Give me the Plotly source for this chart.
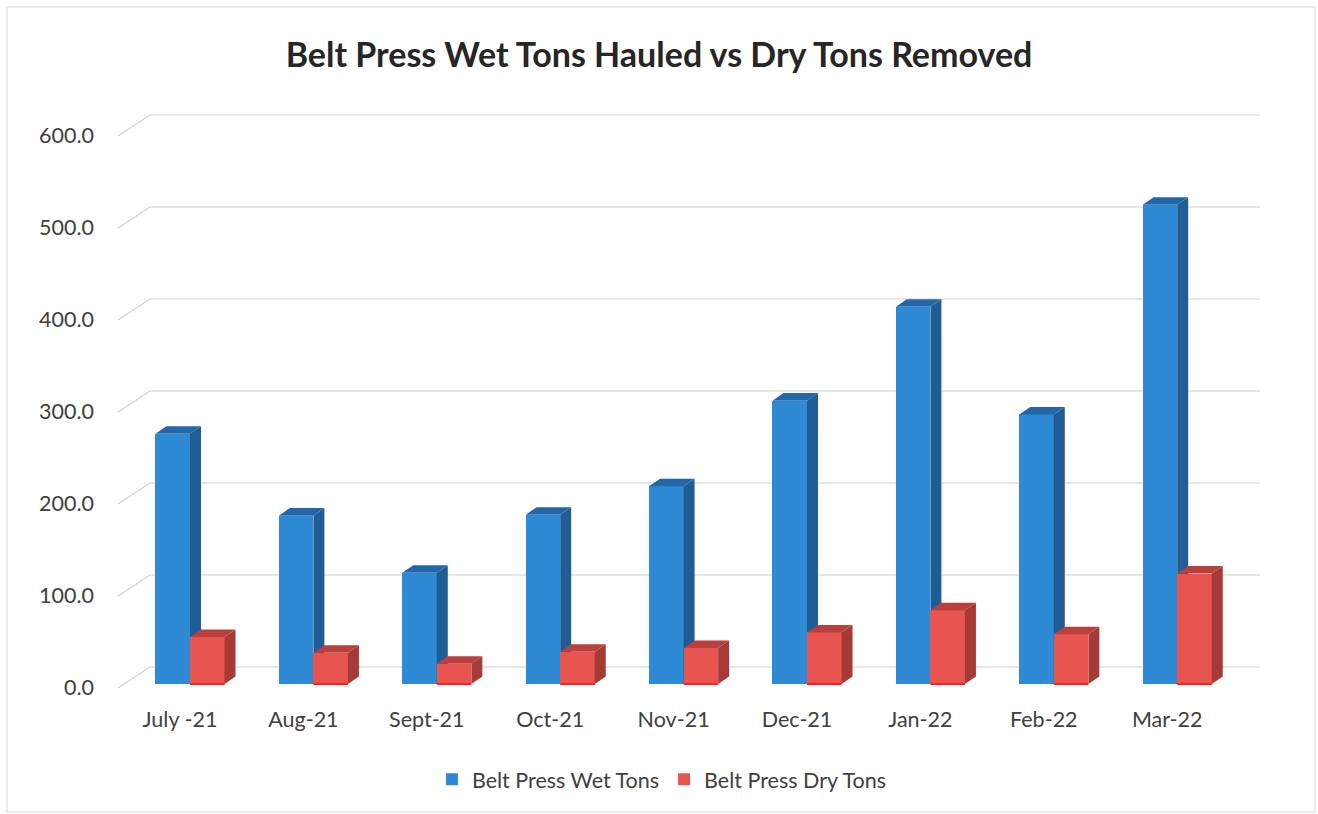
import plotly.graph_objects as go

# ---- data ----
months = ["July -21", "Aug-21", "Sept-21", "Oct-21", "Nov-21",
          "Dec-21", "Jan-22", "Feb-22", "Mar-22"]
wet_tons = [272, 183, 121, 184, 215, 308, 410, 293, 521]
dry_tons = [51, 34, 22, 35, 39, 56, 80, 54, 120]
y_ticks = [0, 100, 200, 300, 400, 500, 600]
y_tick_text = ["0.0", "100.0", "200.0", "300.0", "400.0", "500.0", "600.0"]

# ---- pseudo-3D geometry (axis units) ----
BAR_W = 0.28          # width of a column front
WET_OFF = -0.199      # offset of the wet column from its category tick
DRY_OFF = 0.081       # offset of the dry column
DEPTH_X = 0.089       # depth shift of column tops / sides
DEPTH_Y = 8.2
FLOOR_FRONT = -4.3    # front edge of the floor relative to the column base
WALL = 18.5           # back wall relative to the column base
FRONT_LEFT, WALL_LEFT, WALL_RIGHT = -0.502, -0.243, 8.752

X_RANGE = [-0.6078, 8.995]
Y_RANGE = [-17.39, 634.78]

WET_FRONT, WET_TOP, WET_SIDE = "#2E8AD5", "#2366AA", "#1F5D94"
DRY_FRONT, DRY_TOP, DRY_SIDE = "#E8544F", "#B9403C", "#A63A36"

FONT = "Lato, 'Open Sans', sans-serif"
TICK_SIZE = 21.5
idx = list(range(len(months)))


def faces(values, offset):
    """Polygons (None separated) for the top and right-hand faces of columns."""
    tx, ty, sx, sy = [], [], [], []
    for i, h in zip(idx, values):
        left = i + offset
        right = left + BAR_W
        tx += [left, right, right + DEPTH_X, left + DEPTH_X, left, None]
        ty += [h, h, h + DEPTH_Y, h + DEPTH_Y, h, None]
        sx += [right, right + DEPTH_X, right + DEPTH_X, right, right, None]
        sy += [0, DEPTH_Y, h + DEPTH_Y, h, 0, None]
    return tx, ty, sx, sy


fig = go.Figure()

# invisible anchor trace for the base axes (tick labels live here)
fig.add_trace(go.Scatter(x=[X_RANGE[0]], y=[0], mode="markers",
                         marker=dict(opacity=0), showlegend=False,
                         hoverinfo="skip", xaxis="x", yaxis="y"))

# wet tons columns on their own overlay
tx, ty, sx, sy = faces(wet_tons, WET_OFF)
fig.add_trace(go.Bar(x=idx, y=wet_tons, width=BAR_W, offset=WET_OFF, base=0,
                     name="Belt Press Wet Tons",
                     marker=dict(color=WET_FRONT, line=dict(width=0)),
                     xaxis="x2", yaxis="y2"))
fig.add_trace(go.Scatter(x=sx, y=sy, fill="toself", mode="lines",
                         line=dict(width=0, color=WET_SIDE), fillcolor=WET_SIDE,
                         showlegend=False, hoverinfo="skip", xaxis="x2", yaxis="y2"))
fig.add_trace(go.Scatter(x=tx, y=ty, fill="toself", mode="lines",
                         line=dict(width=0, color=WET_TOP), fillcolor=WET_TOP,
                         showlegend=False, hoverinfo="skip", xaxis="x2", yaxis="y2"))

# dry tons columns drawn above the wet ones
tx, ty, sx, sy = faces(dry_tons, DRY_OFF)
fig.add_trace(go.Bar(x=idx, y=dry_tons, width=BAR_W, offset=DRY_OFF, base=0,
                     name="Belt Press Dry Tons",
                     marker=dict(color=DRY_FRONT, line=dict(width=0)),
                     xaxis="x3", yaxis="y3"))
fig.add_trace(go.Scatter(x=sx, y=sy, fill="toself", mode="lines",
                         line=dict(width=0, color=DRY_SIDE), fillcolor=DRY_SIDE,
                         showlegend=False, hoverinfo="skip", xaxis="x3", yaxis="y3"))
fig.add_trace(go.Scatter(x=tx, y=ty, fill="toself", mode="lines",
                         line=dict(width=0, color=DRY_TOP), fillcolor=DRY_TOP,
                         showlegend=False, hoverinfo="skip", xaxis="x3", yaxis="y3"))
# bright lower edge of the dry columns
ex, ey = [], []
for i in idx:
    ex += [i + DRY_OFF, i + DRY_OFF + BAR_W, None]
    ey += [0, 0, None]
fig.add_trace(go.Scatter(x=ex, y=ey, mode="lines", line=dict(color="#FF1F1F", width=2),
                         showlegend=False, hoverinfo="skip", xaxis="x3", yaxis="y3"))

# back-wall gridlines with the slanted side-wall segment
shapes = []
for t in y_ticks:
    shapes.append(dict(
        type="path", xref="x", yref="y", layer="below",
        path=f"M {FRONT_LEFT},{t + FLOOR_FRONT} L {WALL_LEFT},{t + WALL} L {WALL_RIGHT},{t + WALL}",
        line=dict(color="#D0D0D0", width=1.2)))
# chart frame
shapes.append(dict(type="rect", xref="paper", yref="paper",
                   x0=-0.0827, x1=1.0211, y0=-0.1867, y1=1.155,
                   line=dict(color="#D9D9D9", width=1), layer="below"))

hidden = dict(range=X_RANGE, visible=False, showgrid=False, zeroline=False, fixedrange=True)
hidden_y = dict(range=Y_RANGE, visible=False, showgrid=False, zeroline=False, fixedrange=True)

fig.update_layout(
    width=1318, height=814,
    margin=dict(l=105, r=28, t=100, b=114),
    paper_bgcolor="white", plot_bgcolor="rgba(0,0,0,0)",
    font=dict(family=FONT, color="#404040", size=TICK_SIZE),
    title=dict(text="<b>Belt Press Wet Tons Hauled vs Dry Tons Removed</b>",
               x=0.5, xref="container", xanchor="center",
               y=1 - 55 / 814, yref="container", yanchor="middle",
               font=dict(family=FONT, size=34, color="#262626")),
    xaxis=dict(range=X_RANGE, tickvals=idx, ticktext=months, showgrid=False,
               zeroline=False, showline=False, ticks="", ticklabelstandoff=4,
               tickfont=dict(size=TICK_SIZE, color="#404040"), fixedrange=True),
    yaxis=dict(range=Y_RANGE, tickvals=[t + FLOOR_FRONT for t in y_ticks],
               ticktext=y_tick_text, showgrid=False, zeroline=False, showline=False,
               ticks="", ticklabelstandoff=10,
               tickfont=dict(size=TICK_SIZE, color="#404040"), fixedrange=True),
    xaxis2=dict(overlaying="x", **hidden), yaxis2=dict(overlaying="y", **hidden_y),
    xaxis3=dict(overlaying="x", **hidden), yaxis3=dict(overlaying="y", **hidden_y),
    showlegend=True,
    legend=dict(orientation="h", x=0.47, xanchor="center", y=-0.132, yanchor="middle",
                font=dict(size=TICK_SIZE, color="#404040"), itemwidth=30,
                bgcolor="rgba(0,0,0,0)"),
    shapes=shapes,
    bargap=0,
)

fig.write_html("out.html")
